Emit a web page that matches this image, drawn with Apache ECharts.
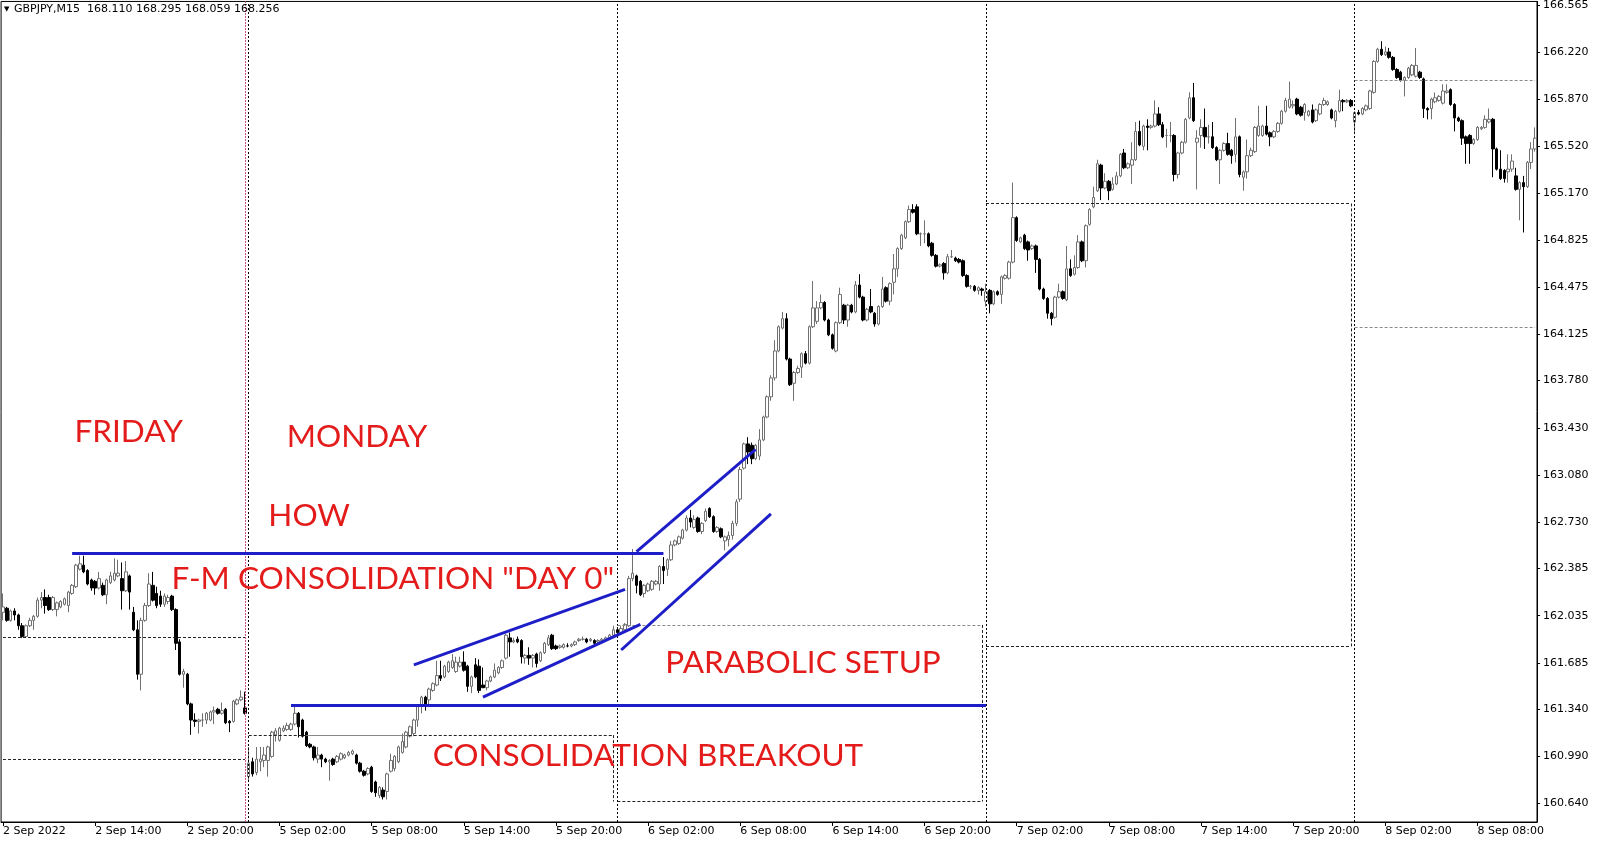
<!DOCTYPE html>
<html><head><meta charset="utf-8">
<script src="https://cdn.jsdelivr.net/npm/echarts@6/dist/echarts.min.js"></script>
<style>html,body{margin:0;padding:0;background:#fff}#c{width:1600px;height:844px}</style>
</head><body><div id="c"></div>
<script>
// [open, close, low, high] per M15 bar
const fri = [
[162.06,162.10,162.00,162.20],[162.09,162.00,161.99,162.10],[162.00,162.07,161.99,162.08],[162.07,162.04,162.00,162.09],
[162.04,161.96,161.93,162.05],[161.96,161.88,161.87,161.98],[161.88,161.96,161.87,161.97],[161.96,162.00,161.95,162.02],
[162.00,162.03,161.93,162.04],[162.03,162.15,162.02,162.17],[162.15,162.17,162.09,162.21],[162.17,162.11,162.05,162.23],
[162.17,162.08,162.07,162.19],[162.08,162.17,162.07,162.18],[162.08,162.13,162.03,162.14],[162.10,162.14,162.09,162.15],
[162.12,162.16,162.11,162.17],[162.11,162.21,162.06,162.22],[162.20,162.26,162.19,162.27],[162.25,162.41,162.24,162.42],
[162.38,162.42,162.37,162.48],[162.41,162.36,162.35,162.48],[162.37,162.27,162.26,162.38],[162.30,162.24,162.22,162.31],
[162.29,162.24,162.19,162.30],[162.24,162.31,162.23,162.36],[162.26,162.19,162.18,162.28],[162.19,162.30,162.12,162.31],
[162.28,162.33,162.27,162.36],[162.30,162.35,162.29,162.46],[162.33,162.35,162.32,162.45],[162.31,162.22,162.08,162.43],
[162.22,162.36,162.21,162.44],[162.33,162.21,162.08,162.34],[162.06,161.93,161.92,162.10],[161.93,161.60,161.56,162.00],
[161.60,162.00,161.48,162.02],[162.00,162.11,161.99,162.13],[162.11,162.27,162.10,162.35],[162.26,162.15,162.14,162.36],
[162.20,162.11,162.09,162.25],[162.18,162.12,162.10,162.22],[162.12,162.18,162.10,162.20],[162.14,162.17,162.12,162.19],
[162.18,162.08,162.07,162.19],[162.08,161.83,161.78,162.09],[161.84,161.60,161.59,161.86],[161.60,161.62,161.50,161.64],
[161.60,161.38,161.37,161.61],[161.38,161.26,161.15,161.39],[161.26,161.25,161.21,161.31],[161.25,161.26,161.16,161.27],
[161.26,161.26,161.21,161.31],[161.26,161.31,161.23,161.32],[161.26,161.32,161.25,161.33],[161.32,161.33,161.23,161.36],
[161.34,161.31,161.30,161.35],[161.31,161.33,161.30,161.39],[161.34,161.24,161.23,161.35],[161.25,161.24,161.17,161.26],
[161.25,161.40,161.24,161.41],[161.38,161.41,161.37,161.42],[161.41,161.43,161.40,161.48],[161.35,161.31,161.30,161.47]
];
const mon = [
[160.84,160.94,160.81,161.06],[160.95,160.86,160.84,160.98],[160.87,160.97,160.85,161.06],[160.95,160.97,160.88,161.06],
[160.96,161.00,160.91,161.06],[160.96,161.06,160.84,161.07],[160.99,161.17,160.98,161.18],[161.15,161.18,161.10,161.20],
[161.11,161.20,161.10,161.21],[161.18,161.20,161.17,161.22],[161.19,161.22,161.18,161.24],[161.19,161.23,161.18,161.24],
[161.23,161.31,161.22,161.37],[161.31,161.21,161.13,161.32],[161.26,161.14,161.13,161.27],[161.17,161.07,161.06,161.18],
[161.08,161.06,161.05,161.09],[161.06,160.98,160.96,161.07],[160.97,161.00,160.94,161.06],[161.00,160.97,160.91,161.01],
[160.97,160.95,160.94,160.98],[160.95,160.96,160.81,160.97],[160.97,160.93,160.92,160.98],[160.95,160.99,160.94,161.00],
[160.97,161.01,160.96,161.02],[160.98,161.00,160.97,161.01],[161.00,161.02,160.99,161.03],[161.01,161.03,161.00,161.04],
[161.00,160.94,160.93,161.01],[160.94,160.88,160.87,160.95],[160.88,160.85,160.84,160.89],[160.86,160.90,160.85,160.91],
[160.91,160.73,160.72,160.92],[160.80,160.72,160.69,160.81],[160.70,160.76,160.68,160.77],[160.74,160.69,160.67,160.76],
[160.73,160.86,160.67,160.87],[160.88,160.96,160.87,161.01],[160.90,160.99,160.88,161.00],[160.95,161.06,160.94,161.07],
[161.02,161.10,161.01,161.16],[161.06,161.17,161.05,161.18],[161.14,161.21,161.13,161.22],[161.16,161.26,161.14,161.27],
[161.26,161.36,161.21,161.37],[161.36,161.43,161.31,161.44],[161.43,161.37,161.33,161.44],[161.41,161.49,161.36,161.50],
[161.48,161.53,161.47,161.54],[161.52,161.59,161.51,161.70],[161.59,161.57,161.55,161.70],[161.58,161.66,161.57,161.67],
[161.62,161.69,161.61,161.70],[161.65,161.70,161.64,161.75],[161.62,161.69,161.61,161.73],[161.66,161.69,161.65,161.73],
[161.69,161.63,161.62,161.77],[161.66,161.51,161.47,161.67],[161.51,161.58,161.46,161.59],[161.67,161.58,161.57,161.72],
[161.66,161.48,161.46,161.71],[161.52,161.50,161.50,161.65],[161.50,161.55,161.48,161.56],[161.55,161.58,161.54,161.59],
[161.58,161.63,161.57,161.68],[161.61,161.65,161.60,161.66],[161.65,161.70,161.64,161.71],[161.72,161.89,161.71,161.90],
[161.87,161.84,161.73,161.91],[161.84,161.85,161.83,161.87],[161.86,161.84,161.83,161.88],[161.85,161.73,161.68,161.86],
[161.72,161.74,161.68,161.75],[161.74,161.72,161.67,161.80],[161.72,161.74,161.65,161.75],[161.75,161.68,161.65,161.76],
[161.70,161.76,161.69,161.77],[161.76,161.83,161.75,161.84],[161.82,161.87,161.81,161.89],[161.89,161.79,161.78,161.90],
[161.81,161.79,161.78,161.82],[161.80,161.81,161.79,161.82],[161.80,161.82,161.79,161.83],[161.81,161.81,161.80,161.83],
[161.81,161.82,161.80,161.83],[161.82,161.84,161.81,161.85],[161.85,161.86,161.84,161.87],[161.86,161.86,161.85,161.88],
[161.86,161.84,161.83,161.87],[161.85,161.86,161.84,161.87],[161.85,161.83,161.82,161.86],[161.84,161.85,161.83,161.86],
[161.85,161.86,161.84,161.87],[161.86,161.87,161.85,161.88],[161.87,161.89,161.86,161.90],[161.89,161.93,161.88,161.96]
];
const tue = [
[161.93,161.91,161.89,161.95],[161.91,161.94,161.90,161.96],[161.93,161.97,161.92,161.98],[161.96,162.31,161.95,162.33],
[162.31,162.35,162.29,162.53],[162.33,162.26,162.20,162.34],[162.29,162.19,162.18,162.30],[162.20,162.26,162.17,162.27],
[162.22,162.27,162.21,162.28],[162.23,162.29,162.22,162.30],[162.27,162.29,162.26,162.30],[162.27,162.40,162.22,162.41],
[162.40,162.37,162.27,162.47],[162.38,162.45,162.33,162.46],[162.45,162.56,162.44,162.59],[162.56,162.59,162.55,162.60],
[162.57,162.62,162.56,162.63],[162.61,162.67,162.60,162.68],[162.67,162.76,162.66,162.78],[162.76,162.73,162.69,162.82],
[162.69,162.75,162.68,162.78],[162.76,162.66,162.65,162.77],[162.66,162.72,162.64,162.73],[162.74,162.81,162.73,162.83],
[162.83,162.77,162.76,162.84],[162.77,162.66,162.65,162.78],[162.66,162.69,162.65,162.70],[162.68,162.62,162.61,162.69],
[162.59,162.62,162.52,162.63],[162.60,162.63,162.55,162.66],[162.63,162.72,162.60,162.74],[162.72,162.88,162.70,162.90],
[162.90,163.12,162.88,163.14],[163.13,163.31,163.12,163.32],[163.31,163.25,163.16,163.36],[163.30,163.20,163.16,163.32],
[163.20,163.30,163.19,163.31],[163.22,163.34,163.19,163.42],[163.34,163.51,163.33,163.52],[163.51,163.66,163.50,163.67],
[163.66,163.80,163.63,163.82],[163.80,164.00,163.78,164.08],[164.00,164.18,163.99,164.19],[164.17,164.24,164.16,164.29],
[164.24,163.94,163.93,164.28],[163.94,163.75,163.74,163.95],[163.76,163.84,163.63,163.85],[163.84,163.87,163.83,163.89],
[163.88,163.98,163.80,163.99],[163.98,163.91,163.90,164.00],[163.91,164.18,163.90,164.19],[164.18,164.32,164.17,164.52],
[164.22,164.32,164.20,164.37],[164.32,164.36,164.31,164.42],[164.36,164.23,164.22,164.37],[164.23,164.12,164.11,164.24],
[164.12,164.02,164.01,164.13],[164.00,164.21,163.99,164.22],[164.21,164.42,164.20,164.47],[164.34,164.23,164.20,164.35],
[164.23,164.34,164.18,164.35],[164.34,164.29,164.28,164.35],[164.29,164.49,164.28,164.52],[164.49,164.40,164.39,164.57],
[164.40,164.23,164.22,164.41],[164.23,164.31,164.22,164.32],[164.33,164.29,164.28,164.46],[164.28,164.20,164.18,164.29],
[164.20,164.33,164.19,164.34],[164.33,164.46,164.32,164.55],[164.47,164.37,164.36,164.48],[164.37,164.50,164.34,164.51],
[164.51,164.61,164.42,164.72],[164.61,164.76,164.55,164.77],[164.76,164.86,164.75,164.87],[164.84,164.96,164.83,164.97],
[164.96,165.05,164.95,165.08],[165.05,165.03,165.02,165.09],[165.07,164.87,164.86,165.09],[164.87,164.87,164.78,164.88],
[164.87,164.87,164.80,164.97],[164.87,164.78,164.77,164.88],[164.80,164.71,164.70,164.81],[164.71,164.63,164.62,164.72],
[164.63,164.64,164.62,164.65],[164.65,164.58,164.53,164.66],[164.58,164.70,164.57,164.72],[164.70,164.70,164.69,164.75],
[164.69,164.67,164.66,164.70],[164.68,164.66,164.65,164.69],[164.67,164.56,164.55,164.68],[164.56,164.48,164.47,164.57],
[164.48,164.48,164.46,164.49],[164.48,164.45,164.44,164.49],[164.45,164.47,164.42,164.48],[164.46,164.45,164.41,164.47]
];
const wed = [
[164.37,164.44,164.33,164.50],[164.45,164.35,164.28,164.46],[164.35,164.44,164.34,164.45],[164.44,164.42,164.41,164.45],
[164.42,164.55,164.35,164.56],[164.54,164.56,164.53,164.57],[164.54,164.66,164.53,164.67],[164.66,164.99,164.65,165.25],
[164.99,164.82,164.81,165.00],[164.81,164.84,164.80,164.85],[164.86,164.76,164.75,164.87],[164.81,164.75,164.67,164.82],
[164.76,164.78,164.75,164.79],[164.78,164.68,164.58,164.79],[164.68,164.46,164.45,164.69],[164.46,164.39,164.38,164.47],
[164.39,164.28,164.24,164.40],[164.28,164.24,164.19,164.29],[164.25,164.40,164.24,164.41],[164.40,164.44,164.39,164.50],
[164.44,164.39,164.38,164.45],[164.38,164.61,164.37,164.78],[164.61,164.56,164.55,164.68],[164.57,164.62,164.56,164.71],
[164.62,164.81,164.61,164.86],[164.81,164.67,164.66,164.82],[164.67,164.93,164.62,164.94],[164.94,165.05,164.93,165.06],
[165.07,165.14,165.06,165.22],[165.19,165.39,165.18,165.42],[165.38,165.21,165.12,165.39],[165.21,165.26,165.20,165.32],
[165.26,165.19,165.12,165.27],[165.20,165.24,165.19,165.29],[165.24,165.30,165.23,165.33],[165.30,165.46,165.29,165.47],
[165.47,165.36,165.35,165.50],[165.36,165.39,165.35,165.40],[165.38,165.42,165.24,165.55],[165.42,165.63,165.41,165.70],
[165.63,165.53,165.52,165.71],[165.52,165.67,165.49,165.68],[165.67,165.66,165.49,165.72],[165.66,165.67,165.65,165.68],
[165.67,165.76,165.66,165.86],[165.76,165.68,165.67,165.81],[165.68,165.59,165.58,165.70],[165.60,165.60,165.51,165.65],
[165.60,165.60,165.55,165.70],[165.60,165.31,165.26,165.61],[165.31,165.47,165.28,165.48],[165.47,165.55,165.46,165.56],
[165.55,165.72,165.54,165.73],[165.73,165.88,165.72,165.92],[165.88,165.71,165.70,165.99],[165.55,165.58,165.20,165.64],
[165.60,165.66,165.51,165.72],[165.66,165.59,165.50,165.80],[165.59,165.59,165.54,165.68],[165.59,165.51,165.50,165.70],
[165.51,165.42,165.41,165.52],[165.42,165.49,165.24,165.50],[165.49,165.54,165.48,165.55],[165.54,165.46,165.45,165.62],
[165.49,165.45,165.39,165.50],[165.46,165.59,165.40,165.73],[165.59,165.31,165.29,165.60],[165.29,165.33,165.19,165.34],
[165.33,165.45,165.28,165.57],[165.45,165.49,165.44,165.51],[165.48,165.66,165.47,165.67],[165.60,165.67,165.59,165.82],
[165.60,165.67,165.59,165.68],[165.67,165.61,165.60,165.82],[165.62,165.59,165.52,165.63],[165.59,165.63,165.58,165.64],
[165.63,165.69,165.62,165.70],[165.69,165.78,165.68,165.79],[165.78,165.86,165.77,165.88],[165.81,165.87,165.80,166.00],
[165.82,165.83,165.80,165.86],[165.87,165.76,165.75,165.88],[165.81,165.75,165.74,165.82],[165.77,165.83,165.71,165.84],
[165.75,165.78,165.74,165.79],[165.79,165.70,165.69,165.83],[165.71,165.79,165.70,165.80],[165.76,165.83,165.75,165.84],
[165.83,165.86,165.82,165.88],[165.83,165.85,165.82,165.86],[165.79,165.73,165.72,165.80],[165.71,165.78,165.66,165.79],
[165.78,165.86,165.77,165.94],[165.86,165.85,165.78,165.87],[165.85,165.86,165.84,165.87],[165.86,165.82,165.81,165.87]
];
const thu = [
[165.70,165.77,165.61,165.78],[165.77,165.76,165.75,165.79],[165.76,165.80,165.75,165.81],[165.79,165.82,165.78,165.83],
[165.80,165.93,165.79,165.94],[165.92,166.15,165.91,166.16],[166.15,166.24,166.14,166.25],[166.24,166.20,166.19,166.30],
[166.20,166.22,166.19,166.26],[166.22,166.18,166.17,166.25],[166.18,166.09,166.08,166.19],[166.09,166.03,166.02,166.10],
[166.07,166.01,166.00,166.08],[166.01,166.03,165.89,166.04],[166.03,166.10,166.02,166.11],[166.05,166.12,166.04,166.13],
[166.04,166.12,166.03,166.25],[166.07,166.03,166.02,166.08],[166.02,165.80,165.73,166.03],[165.80,165.79,165.72,165.81],
[165.80,165.87,165.72,165.88],[165.85,165.88,165.84,165.92],[165.86,165.89,165.85,165.90],[165.84,165.93,165.83,165.98],
[165.92,165.93,165.91,165.98],[165.94,165.83,165.82,165.95],[165.83,165.73,165.63,165.84],[165.73,165.71,165.70,165.74],
[165.71,165.58,165.53,165.72],[165.59,165.54,165.39,165.60],[165.60,165.54,165.39,165.61],[165.54,165.57,165.53,165.58],
[165.57,165.66,165.56,165.67],[165.65,165.66,165.64,165.67],[165.66,165.72,165.65,165.75],[165.70,165.72,165.69,165.80],
[165.72,165.50,165.29,165.73],[165.50,165.35,165.34,165.51],[165.35,165.28,165.27,165.49],[165.34,165.28,165.25,165.35],
[165.33,165.35,165.25,165.46],[165.35,165.41,165.33,165.46],[165.30,165.20,165.19,165.36],[165.20,165.25,164.97,165.26],
[165.25,165.22,164.88,165.30],[165.22,165.40,165.21,165.41],[165.40,165.50,165.35,165.55],[165.50,165.58,165.48,165.66]
];
const yTickLabels = ['160.640','160.990','161.340','161.685','162.035','162.385','162.730','163.080','163.430',
  '163.780','164.125','164.475','164.825','165.170','165.520','165.870','166.220','166.565'];
const xTickLabels = ['2 Sep 2022','2 Sep 14:00','2 Sep 20:00','5 Sep 02:00','5 Sep 08:00','5 Sep 14:00','5 Sep 20:00',
  '6 Sep 02:00','6 Sep 08:00','6 Sep 14:00','6 Sep 20:00','7 Sep 02:00','7 Sep 08:00','7 Sep 14:00','7 Sep 20:00',
  '8 Sep 02:00','8 Sep 08:00'];
// trading days: [label, first bar (quarter hours from 00:00), bar count]
const days = [['2 Sep',32,64],['5 Sep',0,96],['6 Sep',0,96],['7 Sep',0,96],['8 Sep',0,48]];
// day separators (bar index)
const separators = [64,160,256,352];
const fmSeparator = 63;
// previous-day range levels: [startBar, endBar, price]
const levels = [[0,63,161.875],[0,63,160.966],[64,159,161.148],[160,255,161.966],[160,255,160.655],
  [256,351,165.095],[256,351,161.807],[352,399,166.012],[352,399,164.178]];
const levelVerticals = [[159,161.148,160.655],[255,161.966,160.655],[351,165.095,161.807]];
const grayLine = [79,105,161.148];
// hand-drawn blue lines: [[bar, price],[bar, price]]
const blueLines = [
  [[18,162.50],[172,162.50]],
  [[75,161.37],[256,161.37]],
  [[107,161.67],[162,162.23]],
  [[125,161.43],[166,161.97]],
  [[161,161.78],[200,162.79]],
  [[165,162.51],[196,163.27]]
];
const notes = [
  {text:'FRIDAY', bar:18.6, price:163.398},
  {text:'MONDAY', bar:73.9, price:163.364},
  {text:'HOW', bar:69.1, price:162.777},
  {text:'F-M CONSOLIDATION "DAY 0"', bar:43.9, price:162.307},
  {text:'PARABOLIC SETUP', bar:172.5, price:161.682},
  {text:'CONSOLIDATION BREAKOUT', bar:111.9, price:160.996}
];

const ohlc = fri.concat(mon, tue, wed, thu);
const categories = [];
days.forEach(function(d){
  for (let k = 0; k < d[2]; k++) {
    const m = (d[1] + k) * 15;
    categories.push(d[0] + ' ' + String(Math.floor(m/60)).padStart(2,'0') + ':' + String(m%60).padStart(2,'0'));
  }
});
const yTickValues = yTickLabels.map(Number);

const markData = [];
separators.forEach(function(b){
  markData.push({xAxis: b, lineStyle:{color:'#000', type:[2,2], width:1}});
});
markData.push({xAxis: fmSeparator, lineStyle:{color:'#d0508a', type:[2,1], width:1}});
levels.forEach(function(l, i){
  const col = (i === 3 || i >= 7) ? '#8a8a8a' : '#222';
  markData.push([{coord:[l[0], l[2]], lineStyle:{color:col, type:[3,2], width:1}}, {coord:[l[1], l[2]]}]);
});
levelVerticals.forEach(function(v){
  markData.push([{coord:[v[0], v[1]], lineStyle:{color:'#222', type:[3,2], width:1}}, {coord:[v[0], v[2]]}]);
});
markData.push([{coord:[grayLine[0], grayLine[2]], lineStyle:{color:'#888', type:'solid', width:1}}, {coord:[grayLine[1], grayLine[2]]}]);
blueLines.forEach(function(bl){
  markData.push([{coord:bl[0], lineStyle:{color:'#1e1ec8', type:'solid', width:3}}, {coord:bl[1]}]);
});

const chart = echarts.init(document.getElementById('c'), null, {renderer:'canvas'});
const option = {
  animation: false,
  backgroundColor: '#fff',
  grid: {left: 0, right: 63, top: 0, bottom: 22, show: true, borderColor: '#000', borderWidth: 1, backgroundColor:'transparent'},
  xAxis: {
    type: 'category', data: categories, boundaryGap: true,
    axisLine: {lineStyle: {color: '#000'}},
    axisTick: {show: true, interval: function(i){return i % 24 === 0;}, alignWithLabel: true, length: 4, lineStyle:{color:'#000'}},
    axisLabel: {interval: function(i){return i % 24 === 0;}, formatter: function(v, i){return xTickLabels[Math.round(i/24)] || '';},
      align: 'left', margin: 4, color: '#000', fontSize: 11, fontFamily: 'DejaVu Sans'},
    splitLine: {show: false}
  },
  yAxis: {
    type: 'value', position: 'right', scale: true,
    min: 160.503, max: 166.595,
    axisLine: {show: true, lineStyle: {color: '#000'}},
    axisTick: {show: true, length: 3, customValues: yTickValues, lineStyle:{color:'#000'}},
    axisLabel: {customValues: yTickValues, margin: 6, color: '#000', fontSize: 11, fontFamily: 'DejaVu Sans',
      formatter: function(v){
        let best = 0, bd = 1;
        yTickValues.forEach(function(t, i){ const d = Math.abs(t - v); if (d < bd) {bd = d; best = i;} });
        return yTickLabels[best];
      }},
    splitLine: {show: false}
  },
  series: [{
    type: 'candlestick',
    data: ohlc,
    barWidth: 3,
    itemStyle: {color: '#ffffff', color0: '#000000', borderColor: '#707070', borderColor0: '#000000', borderWidth: 1},
    markLine: {silent: true, symbol: ['none','none'], label: {show: false}, animation: false, data: markData}
  }]
};
chart.setOption(option);

const step = chart.convertToPixel({seriesIndex:0}, [1, 162])[0] - chart.convertToPixel({seriesIndex:0}, [0, 162])[0];
const graphics = notes.map(function(n){
  const b = Math.floor(n.bar);
  const p = chart.convertToPixel({seriesIndex:0}, [b, n.price]);
  return {type:'text', x: p[0] + (n.bar - b) * step, y: p[1], z: 100,
    style:{text: n.text, fill:'#e31b1b', fontSize: 31.5, fontFamily:'Lato', verticalAlign:'middle', align:'left'}};
});
graphics.push({type:'text', x: 4, y: 9, z: 100, style:{text:'\u25BC', fill:'#000', fontSize: 7, fontFamily:'DejaVu Sans', verticalAlign:'middle'}});
graphics.push({type:'text', x: 14, y: 9, z: 100, style:{text:'GBPJPY,M15  168.110 168.295 168.059 168.256', fill:'#000', fontSize: 11, fontFamily:'DejaVu Sans', verticalAlign:'middle'}});
chart.setOption({graphic: graphics});
</script>
</body></html>
